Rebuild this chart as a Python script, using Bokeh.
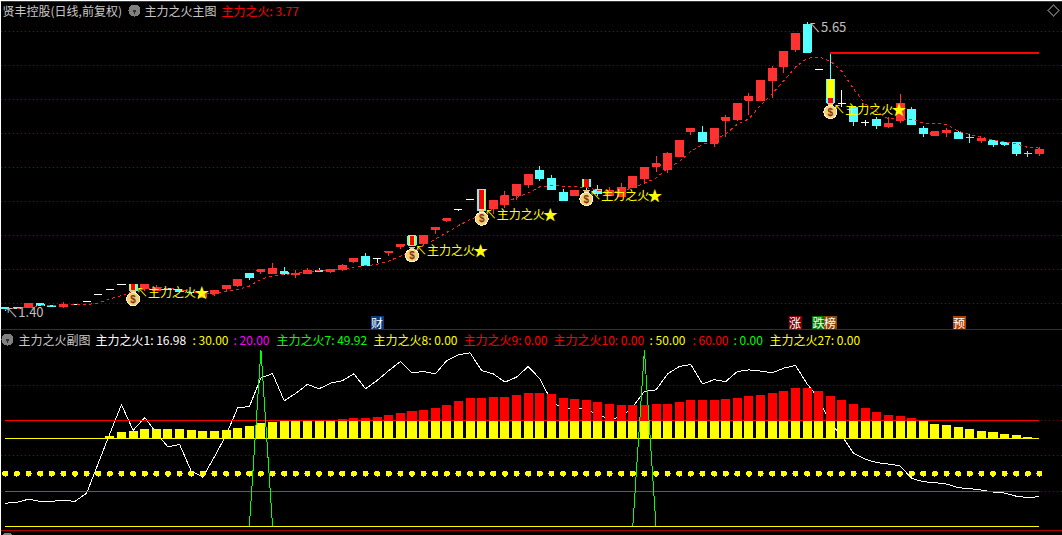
from bokeh.plotting import figure
from bokeh.embed import file_html
from bokeh.resources import INLINE
from bokeh.models import Range1d, LinearScale, Span, Label
from bokeh.core.properties import value
import math

# ---------- main panel data (price) ----------
candle_kind = list("ccrccrwwwwwcrrcccrrrrcrrcrrcrrrcwrrcrrrwwcrrrrcccrccrrrrrrrrcrrrrrrrrcwcwcwcrrccrrccrccccr"[:90])
opens = [1.44,1.44,1.44,1.50,1.48,1.465,1.49,1.54,1.63,1.71,1.79,1.79,1.72,1.70,1.72,1.70,1.67,1.59,1.65,1.72,
         1.77,1.95,1.98,1.95,1.97,1.93,1.95,1.99,1.98,2.00,2.12,2.20,2.16,2.26,2.35,2.50,2.39,2.59,2.73,2.89,
         3.03,3.18,2.90,2.96,3.09,3.25,3.46,3.34,3.14,3.09,3.33,3.18,3.10,3.08,3.21,3.34,3.52,3.47,3.67,4.03,
         4.02,3.86,4.20,4.21,4.49,4.49,4.78,4.99,5.24,5.61,4.95,4.80,4.45,4.39,4.17,4.21,4.11,4.20,4.36,4.08,
         3.98,4.02,4.02,3.95,3.90,3.90,3.87,3.87,3.71,3.71]
highs = [1.44,1.44,1.50,1.50,1.48,1.52,1.49,1.54,1.63,1.71,1.79,1.79,1.78,1.78,1.72,1.70,1.67,1.63,1.70,1.77,
         1.86,1.95,2.00,2.10,2.04,1.99,2.02,2.03,2.00,2.09,2.17,2.24,2.16,2.27,2.37,2.50,2.50,2.62,2.75,2.89,
         3.03,3.18,3.02,3.16,3.25,3.40,3.53,3.40,3.19,3.17,3.33,3.24,3.22,3.28,3.37,3.50,3.68,3.73,3.90,4.08,
         4.12,4.08,4.28,4.45,4.60,4.78,4.99,5.21,5.47,5.65,4.95,5.18,4.65,4.39,4.21,4.24,4.25,4.58,4.40,4.12,
         4.04,4.08,4.04,3.99,3.93,3.90,3.87,3.87,3.74,3.80]
lows = [1.40,1.42,1.44,1.47,1.46,1.44,1.49,1.54,1.63,1.71,1.79,1.69,1.69,1.70,1.71,1.66,1.65,1.59,1.62,1.69,
        1.75,1.85,1.94,1.95,1.93,1.88,1.95,1.98,1.96,1.98,2.10,2.06,2.10,2.20,2.31,2.36,2.35,2.53,2.70,2.87,
        3.03,2.87,2.82,2.91,3.03,3.20,3.30,3.18,3.02,3.09,3.17,3.09,3.10,3.08,3.21,3.28,3.44,3.43,3.67,3.98,
        3.88,3.81,3.95,4.19,4.27,4.49,4.53,4.90,5.21,5.20,4.95,4.46,4.39,4.12,4.12,4.07,4.08,4.16,4.14,3.95,
        3.97,3.96,3.93,3.87,3.87,3.81,3.82,3.68,3.66,3.68]
closes = [1.43,1.43,1.50,1.47,1.46,1.49,1.49,1.54,1.63,1.71,1.79,1.69,1.78,1.74,1.71,1.68,1.66,1.63,1.70,1.77,
          1.86,1.89,2.00,2.02,1.94,1.95,1.99,1.98,2.00,2.06,2.17,2.06,2.16,2.27,2.37,2.36,2.50,2.62,2.75,2.89,
          3.03,2.87,3.02,3.09,3.25,3.40,3.34,3.18,3.02,3.17,3.22,3.12,3.16,3.21,3.37,3.50,3.56,3.71,3.90,4.08,
          3.89,4.08,4.24,4.45,4.55,4.78,4.96,5.21,5.47,5.20,4.95,4.46,4.45,4.18,4.17,4.12,4.15,4.45,4.14,4.00,
          4.03,4.05,3.93,3.95,3.93,3.84,3.85,3.71,3.71,3.77]
ma_line = [1.42,1.43,1.46,1.47,1.47,1.48,1.49,1.49,1.51,1.57,1.62,1.68,1.72,1.74,1.73,1.71,1.68,1.65,1.64,1.685,
           1.71,1.76,1.86,1.91,1.93,1.95,1.96,1.99,1.99,2.01,2.04,2.06,2.08,2.13,2.20,2.26,2.36,2.45,2.55,2.65,
           2.74,2.80,2.90,2.99,3.06,3.13,3.22,3.24,3.23,3.22,3.21,3.17,3.15,3.15,3.21,3.27,3.35,3.49,3.59,3.74,
           3.84,3.90,4.00,4.14,4.22,4.42,4.59,4.78,4.98,5.11,5.13,5.07,4.92,4.66,4.44,4.32,4.22,4.22,4.21,4.16,
           4.15,4.14,4.04,3.99,3.95,3.91,3.88,3.85,3.80,3.79]
price_grid = [1.5,2.0,2.5,3.0,3.5,4.0,4.5,5.0,5.5]
resist_idx = [71, 89]
resist_val = [5.19, 5.19]

signal_idx = [11,35,41,50,71]
signal_bag = [1.57,2.21,2.75,3.04,4.32]
signal_text_y = [1.68,2.30,2.83,3.11,4.37]
signal_cyan_top = [1.79,2.50,3.18,3.33,4.53]
signal_cyan_bot = [1.69,2.36,2.87,3.22,4.46]
signal_yel_top = [1.79,2.50,3.18,3.33,4.80]
signal_yel_bot = [1.69,2.36,2.87,3.22,4.53]
signal_red_top = [1.79,2.50,3.18,3.33,4.53]
signal_red_bot = [1.71,2.37,2.89,3.22,4.46]

# ---------- sub panel data ----------
white_line = [13.2,13.8,15.5,14.3,14.3,14.9,14.3,18.9,35.8,52.7,69.0,54.5,61.7,53.0,45.1,46.5,31.4,28.0,39.5,51.7,
              67.3,67.9,84.2,86.6,71.2,75.4,80.5,78.0,81.2,82.5,86.5,78.0,82.7,88.3,93.4,87.0,87.8,86.4,94.0,97.3,
              98.3,88.3,86.4,81.8,84.6,90.6,83.7,71.0,66.7,67.1,66.4,63.3,60.7,62.0,67.7,76.5,77.4,86.4,90.6,91.7,
              80.8,83.1,82.1,87.8,88.7,88.0,87.0,89.7,91.2,80.8,72.6,58.3,51.3,41.4,38.2,36.2,35.4,34.4,27.3,25.4,
              24.9,24.1,22.0,21.5,20.7,19.6,19.0,17.2,16.4,16.98]
bar_start = 9
bar_vals = [51.2,53.4,54.0,55.1,55.1,55.1,55.1,54.5,54.0,54.0,54.5,55.7,56.8,58.5,59.0,59.6,59.6,59.6,59.6,59.6,
            60.7,61.3,61.3,61.9,63.0,64.1,65.2,65.8,66.9,68.6,70.9,72.6,72.6,73.1,73.1,74.3,75.4,75.4,74.8,72.6,
            72.0,71.4,70.3,69.2,68.6,68.6,68.6,69.2,69.2,70.3,71.4,71.4,71.4,72.0,72.6,73.7,74.3,75.4,76.5,78.2,
            78.2,76.5,73.7,71.4,69.2,67.0,64.6,63.0,62.4,61.3,59.6,57.9,57.3,56.2,55.1,54.0,53.4,52.3,51.7,50.6]
spike_idx = [21,22,23]
spike_idx2 = [54,55,56]
spike_vals = [0, 100, 0]
dot_level = 30
level_low = 0
level_magenta = 20
level_yellow = 50
level_red = 60
ind_grid = [20,40,60,80]

tag_texts = ["财", "涨", "跌", "榜", "预"]
tag_colors = ["#0a3a80", "#800000", "#007800", "#8b4500", "#b04000"]
tag_px = [376.5, 794.5, 818, 829.5, 958.5]

FONT = "Noto Sans CJK SC"
W, H = 1062, 535
idx = list(range(90))

# x: 4.8 + 11.62*i px;  price: 1.5 at 303.3 px, 68 px per unit;  indicator: 0 at 526.1 px, 1.767 px per unit
def xd(px): return (px - 4.8) / 11.62
def pd_(py): return 1.5 + (303.3 - py) / 68.0

p = figure(width=W, height=H, output_backend="svg", toolbar_location=None,
           x_axis_type=None, y_axis_type=None,
           x_range=Range1d(xd(0), xd(W)),
           y_range=Range1d(pd_(H), pd_(0)),
           min_border=0, min_border_left=0, min_border_right=0, min_border_top=0, min_border_bottom=0,
           background_fill_color="#000000", border_fill_color="#000000", outline_line_color=None)
p.styles = {"shape-rendering": "crispEdges"}
p.extra_y_ranges = {"ind": Range1d((526.1 - H) / 1.767, 526.1 / 1.767)}
p.extra_y_scales = {"ind": LinearScale()}

# grids & separators
for g in price_grid:
    p.add_layout(Span(location=g, dimension="width", line_color="#8a0000", line_dash="1 3", line_width=1, level="underlay"))
for g in ind_grid:
    p.add_layout(Span(location=g, y_range_name="ind", dimension="width", line_color="#8a0000", line_dash="1 3", line_width=1, level="underlay"))
p.add_layout(Span(location=pd_(0.6), dimension="width", line_color="#c00000", line_width=1))
p.add_layout(Span(location=pd_(329.1), dimension="width", line_color="#a00000", line_width=1))
p.add_layout(Span(location=pd_(530.1), dimension="width", line_color="#b00000", line_width=1))

# candles
pal = {"r": "#ff3232", "c": "#54ffff", "w": "#ffffff"}
col = [pal[k] for k in candle_kind]
tops = [max(o, c) for o, c in zip(opens, closes)]
bots = [min(o, c) for o, c in zip(opens, closes)]
p.segment(idx, lows, idx, highs, line_color=col, line_width=1)
p.vbar(x=idx, top=tops, bottom=bots, width=0.69, fill_color=col, line_color=col, line_width=1)
p.line(idx, ma_line, line_color="#ff2020", line_width=1, line_dash="3 3")
p.line(resist_idx, resist_val, line_color="#ff0000", line_width=2)

# signal candles and bags
p.vbar(x=signal_idx, top=signal_cyan_top, bottom=signal_cyan_bot, width=0.775, fill_color="#54ffff", line_color=None)
p.vbar(x=signal_idx, top=signal_yel_top, bottom=signal_yel_bot, width=[0.5, 0.5, 0.5, 0.5, 0.62], fill_color="#ffff00", line_color=None)
p.vbar(x=signal_idx, top=signal_red_top, bottom=signal_red_bot, width=0.40, fill_color="#ff0000", line_color=None)
p.scatter(signal_idx, [b + 0.10 for b in signal_bag], marker="inverted_triangle", size=7, fill_color="#e8c878", line_color=None)
p.scatter(signal_idx, signal_bag, marker="circle", size=13, fill_color="#f0d078", line_color="#fff4c0", line_width=1)
p.text(signal_idx, signal_bag, text=["$"] * 5, text_color="#8a3010", text_font=value("Liberation Sans"),
       text_font_style="bold", text_font_size="10px", text_align="center", text_baseline="middle")
p.text(signal_idx, signal_text_y, text=["↖主力之火"] * 5, text_color="#ffff00", text_font=value(FONT),
       text_font_size="12px", text_align="left", text_baseline="middle", x_offset=3)
p.text([i + 5.9 for i in signal_idx], signal_text_y, text=["★"] * 5, text_color="#ffff00", text_font=value(FONT),
       text_font_size="15px", text_align="center", text_baseline="middle")

# hi/lo marks
p.text([69], [highs[69]], text=[f"↖{highs[69]:.2f}"], text_color="#c0c0c0", text_font=value(FONT),
       text_font_size="13px", text_align="left", text_baseline="middle", x_offset=1, y_offset=5)
p.text([0], [lows[0]], text=[f"↖{lows[0]:.2f}"], text_color="#c0c0c0", text_font=value(FONT),
       text_font_size="13px", text_align="left", text_baseline="middle", x_offset=0, y_offset=1)

# sub panel
bar_idx = [bar_start + i for i in range(len(bar_vals))]
p.line(idx, white_line, y_range_name="ind", line_color="#ffffff", line_width=1)
p.vbar(x=bar_idx, bottom=level_yellow, top=[min(v, level_red) for v in bar_vals], width=0.775,
       y_range_name="ind", fill_color="#ffff00", line_color=None)
red_pairs = [(i, v) for i, v in zip(bar_idx, bar_vals) if v > level_red]
p.vbar(x=[a for a, _ in red_pairs], bottom=level_red, top=[b for _, b in red_pairs], width=0.775,
       y_range_name="ind", fill_color="#ff0000", line_color=None)
ends = [0, 89]
p.line(ends, [level_yellow] * 2, y_range_name="ind", line_color="#ffff00", line_width=1)
p.line(ends, [level_red] * 2, y_range_name="ind", line_color="#ff0000", line_width=1)
p.line(ends, [level_magenta] * 2, y_range_name="ind", line_color="#e000e0", line_width=1)
p.scatter(idx, [dot_level] * 90, y_range_name="ind", marker="circle", size=6, fill_color="#ffff00", line_color=None)
p.line(spike_idx, spike_vals, y_range_name="ind", line_color="#00ff00", line_width=1)
p.line(spike_idx2, spike_vals, y_range_name="ind", line_color="#00ff00", line_width=1)
p.line(ends, [level_low] * 2, y_range_name="ind", line_color="#ffff00", line_width=1)

# icons
p.scatter([xd(134), xd(7), xd(7)], [pd_(10), pd_(339), pd_(538)], marker="circle", size=12, fill_color="#808080", line_color=None)
p.scatter([xd(134), xd(7)], [pd_(10.5), pd_(339.5)], marker="inverted_triangle", size=5, fill_color="#303030", line_color=None)
p.scatter([xd(1053)], [pd_(10)], marker="square", angle=math.pi / 4, size=8, fill_color=None, line_color="#606060", line_width=1)
p.scatter([xd(v) for v in tag_px], [pd_(321.5)] * 5, marker="square", size=13, fill_color=tag_colors, line_color=None)

def label(x, y, text, color, align="left"):
    p.add_layout(Label(x=x, y=H - y, x_units="screen", y_units="screen", text=text, text_color=color,
                       text_font=FONT, text_font_size="12px", text_align=align, text_baseline="middle"))

label(2, 10, "贤丰控股(日线,前复权)", "#c8c8c8")
label(144, 10, "主力之火主图", "#c8c8c8")
label(221, 10, "主力之火: 3.77", "#ff0000")

row = 339
label(18, row, "主力之火副图", "#c8c8c8")
label(95, row, "主力之火1: 16.98", "#ffffff")
label(192, row, ": 30.00", "#ffff00")
label(233, row, ": 20.00", "#ff00ff")
label(276, row, "主力之火7: 49.92", "#00ff00")
label(373, row, "主力之火8: 0.00", "#ffff00")
label(463, row, "主力之火9: 0.00", "#ff0000")
label(553, row, "主力之火10: 0.00", "#ff0000")
label(649, row, ": 50.00", "#ffff00")
label(692, row, ": 60.00", "#ff0000")
label(733, row, ": 0.00", "#00ff00")
label(769, row, "主力之火27: 0.00", "#ffff00")

for t, x in zip(tag_texts, tag_px):
    label(x, 321.5, t, "#ffffff", align="center")

open("out.html", "w").write(file_html(p, INLINE))
